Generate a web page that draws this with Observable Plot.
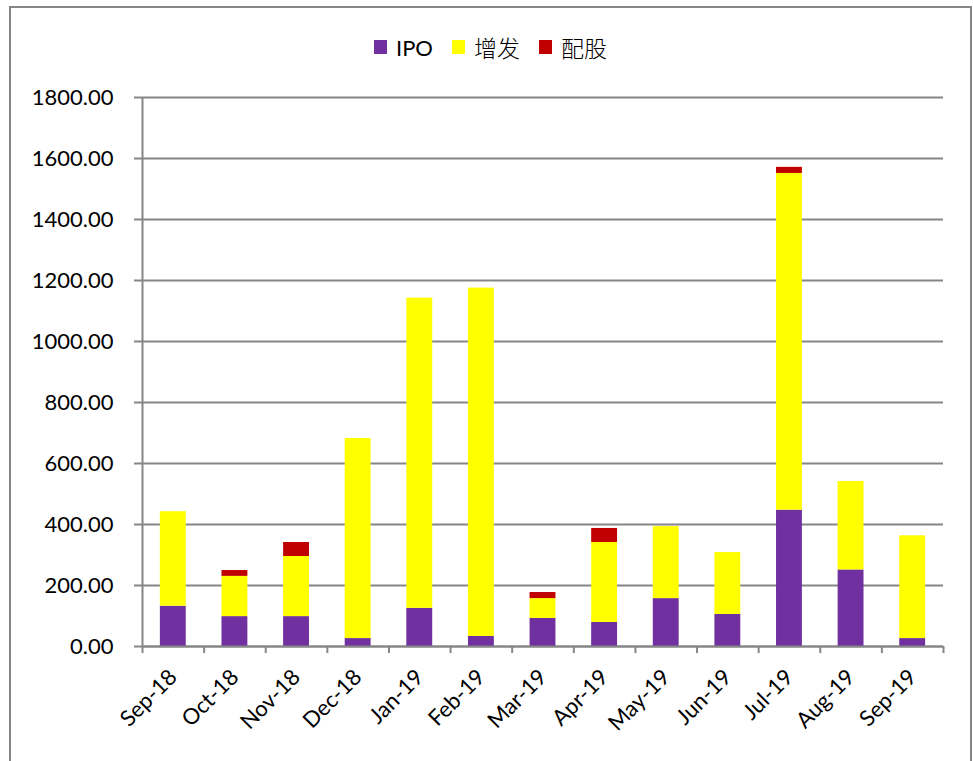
<!DOCTYPE html>
<html>
<head>
<meta charset="utf-8">
<script src="https://cdn.jsdelivr.net/npm/d3@7"></script>
<script src="https://cdn.jsdelivr.net/npm/@observablehq/plot@0.6"></script>
<style>
  html, body { margin: 0; padding: 0; background: #fff; }
  #wrap { position: relative; width: 973px; height: 761px; overflow: hidden; background: #fff; }
  #frame { position: absolute; left: 9px; top: 6px; width: 963px; height: 800px; border: 2px solid #868686; box-sizing: border-box; }
  #legend { position: absolute; left: 374px; top: 34px; height: 26px; display: flex; align-items: center; font-family: Lato, "Noto Sans CJK SC", sans-serif; font-size: 22px; color: #000; }
  #legend .sw { width: 13px; height: 14px; display: inline-block; margin-right: 9px; }
  #legend .it { display: flex; align-items: center; margin-right: 19px; }
  #legend .cjk { font-family: "Noto Sans CJK SC", sans-serif; font-weight: 300; font-size: 23px; }
  #chart { position: absolute; left: 0; top: 80px; }
</style>
</head>
<body>
<div id="wrap">
  <div id="frame"></div>
  <div id="legend"></div>
  <div id="chart"></div>
</div>
<script>
const months = ["Sep-18","Oct-18","Nov-18","Dec-18","Jan-19","Feb-19","Mar-19","Apr-19","May-19","Jun-19","Jul-19","Aug-19","Sep-19"];
const seriesNames = ["IPO", "增发", "配股"];
const seriesColors = ["#7030A0", "#FFFF00", "#C00000"];
const ipo    = [132, 98, 98, 26, 125, 33, 92, 79, 157, 105, 447, 251, 26];
const zengfa = [310, 132, 197, 656, 1017, 1142, 65, 262, 236, 203, 1104, 290, 337];
const peigu  = [0, 19, 46, 0, 0, 0, 20, 46, 0, 0, 20, 0, 0];
const yTicks = [0, 200, 400, 600, 800, 1000, 1200, 1400, 1600, 1800];

const seriesValues = [ipo, zengfa, peigu];
const data = [];
months.forEach((m, i) => {
  seriesNames.forEach((s, k) => {
    data.push({month: m, series: s, value: seriesValues[k][i]});
  });
});

// legend
const legend = document.getElementById("legend");
seriesNames.forEach((s, k) => {
  const it = document.createElement("span");
  it.className = "it";
  const sw = document.createElement("span");
  sw.className = "sw";
  sw.style.background = seriesColors[k];
  const tx = document.createElement("span");
  tx.textContent = s;
  if (k > 0) tx.className = "cjk";
  it.appendChild(sw); it.appendChild(tx);
  legend.appendChild(it);
});

const W = 973, H = 681;
const mL = 142, mR = 30, mT = 17, mB = 115;
const step = (W - mL - mR) / months.length;
const pxPerUnit = (H - mT - mB) / 1800;
const gray = "#868686";

const chart = Plot.plot({
  width: W,
  height: H,
  marginLeft: mL,
  marginRight: mR,
  marginTop: mT,
  marginBottom: mB,
  style: {fontFamily: "Lato, sans-serif", fontSize: "22px", color: "#000", background: "transparent"},
  x: {domain: months, paddingInner: 0.58, paddingOuter: 0.29, round: false},
  y: {domain: [0, 1800]},
  color: {domain: seriesNames, range: seriesColors},
  marks: [
    Plot.ruleY(yTicks, {stroke: gray, strokeWidth: 2}),
    Plot.barY(data, {x: "month", y: "value", fill: "series", order: seriesNames}),
    Plot.ruleY([0], {stroke: gray, strokeWidth: 2}),
    Plot.ruleX([months[0]], {x: d => d, dx: -step / 2, y1: 0, y2: 1800, stroke: gray, strokeWidth: 2}),
    Plot.ruleX(months, {x: d => d, dx: -step / 2, y1: 0, y2: -7 / pxPerUnit, stroke: gray, strokeWidth: 2}),
    Plot.ruleX([months[months.length - 1]], {x: d => d, dx: step / 2, y1: 0, y2: -7 / pxPerUnit, stroke: gray, strokeWidth: 2}),
    Plot.axisY({ticks: yTicks, tickFormat: d => d.toFixed(2), tickSize: 8, tickPadding: 21, stroke: gray, strokeWidth: 2, fill: "#000", fontSize: 22, label: null}),
    Plot.axisX({tickSize: 0, tickPadding: 27, tickRotate: -45, fill: "#000", fontSize: 22, label: null})
  ]
});
document.getElementById("chart").appendChild(chart);
</script>
</body>
</html>
